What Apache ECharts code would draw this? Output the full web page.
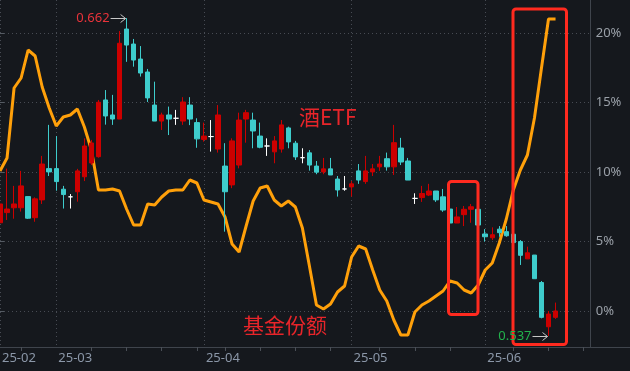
<!DOCTYPE html>
<html><head><meta charset="utf-8">
<script src="https://cdn.jsdelivr.net/npm/echarts@6/dist/echarts.min.js"></script>
<style>html,body{margin:0;padding:0;background:#15181d;}#c{width:630px;height:371px;}</style>
</head><body><div id="c"></div>
<script>
// ---- data (2025 trading days) ----
const dates = ['02-19','02-20','02-21','02-24','02-25','02-26','02-27','02-28',
'03-03','03-04','03-05','03-06','03-07','03-10','03-11','03-12','03-13','03-14','03-17','03-18','03-19','03-20','03-21','03-24','03-25','03-26','03-27','03-28','03-31',
'04-01','04-02','04-03','04-07','04-08','04-09','04-10','04-11','04-14','04-15','04-16','04-17','04-18','04-21','04-22','04-23','04-24','04-25','04-28','04-29','04-30',
'05-06','05-07','05-08','05-09','05-12','05-13','05-14','05-15','05-16','05-19','05-20','05-21','05-22','05-23','05-26','05-27','05-28','05-29','05-30',
'06-03','06-04','06-05','06-06','06-09','06-10','06-11','06-12','06-13','06-16','06-17','06-18','06-19','06-20','06-23','06-24'];
const opens = [0.5815,0.5855,0.5874,0.5874,0.5918,0.5835,0.5905,0.6028,0.6028,0.5947,
0.5917,0.5937,0.5996,0.6050,0.6075,0.6298,0.6239,0.6223,0.6577,0.6518,
0.6459,0.6408,0.6278,0.6215,0.6239,0.6226,0.6215,0.6278,0.6209,0.6143,
0.6154,0.6105,0.6038,0.5964,0.6042,0.6223,0.6219,0.6156,0.6117,0.6094,
0.6105,0.6188,0.6128,0.6071,0.6090,0.6038,0.6015,0.6027,0.5987,0.5948,
0.5956,0.6019,0.5977,0.6015,0.6035,0.6067,0.6035,0.6109,0.6058,0.5911,
0.5914,0.5924,0.5940,0.5917,0.5869,0.5814,0.5847,0.5868,0.5868,0.5771,
0.5756,0.5790,0.5780,0.5770,0.5741,0.5673,0.5688,0.5580,0.5406,0.5443];
const closes = [0.5889,0.5869,0.5889,0.5960,0.5833,0.5909,0.6046,0.6015,0.5977,0.5926,
0.5917,0.6019,0.6117,0.6129,0.6289,0.6235,0.6223,0.6521,0.6514,0.6455,
0.6404,0.6306,0.6215,0.6239,0.6223,0.6226,0.6290,0.6223,0.6145,0.6156,
0.6154,0.6239,0.5937,0.6137,0.6219,0.6248,0.6176,0.6112,0.6117,0.6137,
0.6200,0.6133,0.6074,0.6071,0.6042,0.6014,0.6027,0.6003,0.5944,0.5948,
0.5968,0.5983,0.6019,0.6027,0.6046,0.6035,0.6130,0.6054,0.5983,0.5911,
0.5930,0.5940,0.5905,0.5865,0.5814,0.5838,0.5868,0.5878,0.5806,0.5760,
0.5768,0.5776,0.5764,0.5737,0.5687,0.5697,0.5595,0.5443,0.5456,0.5468];
const lows = [0.5791,0.5826,0.5831,0.5859,0.5830,0.5819,0.5889,0.5999,0.5941,0.5871,
0.5871,0.5898,0.5979,0.6042,0.6071,0.6201,0.6200,0.6223,0.6448,0.6429,
0.6390,0.6290,0.6215,0.6180,0.6160,0.6200,0.6200,0.6199,0.6110,0.6134,
0.6095,0.6091,0.5780,0.5951,0.6029,0.6130,0.6108,0.6108,0.6078,0.6049,
0.6091,0.6108,0.6062,0.6049,0.6020,0.6006,0.6006,0.6003,0.5918,0.5941,
0.5918,0.5968,0.5968,0.5999,0.6019,0.6020,0.6003,0.6042,0.5983,0.5889,
0.5897,0.5920,0.5897,0.5858,0.5798,0.5814,0.5802,0.5815,0.5800,0.5741,
0.5747,0.5760,0.5760,0.5732,0.5649,0.5673,0.5595,0.5439,0.5370,0.5437];
const highs = [0.5889,0.6028,0.5960,0.6019,0.5918,0.5915,0.6078,0.6200,0.6156,0.5960,
0.5928,0.6027,0.6147,0.6141,0.6298,0.6337,0.6318,0.6569,0.6620,0.6538,
0.6510,0.6420,0.6370,0.6248,0.6272,0.6259,0.6309,0.6309,0.6226,0.6209,
0.6219,0.6278,0.6128,0.6147,0.6248,0.6259,0.6248,0.6209,0.6147,0.6156,
0.6219,0.6193,0.6137,0.6108,0.6101,0.6058,0.6070,0.6070,0.5999,0.5999,
0.5979,0.6046,0.6078,0.6046,0.6078,0.6091,0.6200,0.6149,0.6070,0.5931,
0.5960,0.5968,0.5940,0.5948,0.5878,0.5877,0.5881,0.5889,0.5877,0.5790,
0.5797,0.5802,0.5802,0.5779,0.5747,0.5721,0.5688,0.5586,0.5468,0.5501];
const fundShares = [17.6,18.9,25.9,26.9,29.7,29.1,26.0,23.9,22.1,23.0,
23.2,23.8,22.0,19.7,15.7,15.7,15.8,15.6,13.8,12.2,
12.2,14.3,14.2,15.0,15.6,15.7,15.7,16.7,16.4,14.7,
14.5,14.3,13.0,10.3,9.5,12.1,14.6,15.9,16.1,14.7,
14.1,14.6,14.0,11.9,8.1,4.2,3.8,4.3,5.5,6.1,
9.0,10.1,9.8,7.7,5.7,4.6,2.7,1.2,1.2,3.5,
4.2,4.6,5.1,5.6,6.6,6.4,5.7,5.4,6.2,7.7,
8.4,10.4,12.8,15.7,17.7,19.2,22.9,27.9,32.8,32.8];
const pctTicks = [0, 5, 10, 15, 20];
const basePrice = 0.5468;          // 0% reference of the right axis
const pctRange = [-2.59, 22.37];   // visible percent range of the plot
const shareRange = [0, 34.7];

// ---- layout ----
const W = 630, H = 371, plotBottom = 347, plotRight = 590.7;
const gridRight = W - plotRight, gridBottom = H - plotBottom;
const pxPerPct = plotBottom / (pctRange[1] - pctRange[0]);
const priceMin = basePrice * (1 + pctRange[0] / 100);
const priceMax = basePrice * (1 + pctRange[1] / 100);
const extMin = -5, extMax = 25;
const g1Top = (pctRange[1] - extMax) * pxPerPct;
const g1Height = (extMax - extMin) * pxPerPct;

const monthStart = dates.map((d, i) => i === 0 || d.slice(0, 2) !== dates[i - 1].slice(0, 2));
const dow = dates.map(d => new Date(2025, +d.slice(0, 2) - 1, +d.slice(3)).getDay());
const weekStart = dates.map((d, i) => i > 0 && dow[i] <= dow[i - 1]);

const UP = '#cc0000', DOWN = '#3ecccc', DOJI = '#ffffff';
const kData = opens.map((o, i) => {
  const item = { value: [o, closes[i], lows[i], highs[i]] };
  if (o === closes[i]) item.itemStyle = { color: DOJI, color0: DOJI, borderColor: DOJI, borderColor0: DOJI, borderColorDoji: DOJI };
  return item;
});

const chart = echarts.init(document.getElementById('c'), null, { renderer: 'canvas' });
const gridLineColor = '#474b53';
chart.setOption({
  backgroundColor: '#15181d',
  animation: false,
  grid: [
    { left: 0, right: gridRight, top: 0, bottom: gridBottom, containLabel: false, outerBoundsMode: 'none' },
    { left: 0, right: gridRight, top: g1Top, height: g1Height, containLabel: false, outerBoundsMode: 'none' }
  ],
  xAxis: [
    { type: 'category', gridIndex: 0, data: dates, boundaryGap: false,
      axisLine: { show: true, lineStyle: { color: '#3f444c', width: 1 } },
      axisTick: { show: true, length: 4, interval: (i) => weekStart[i] && !monthStart[i], lineStyle: { color: '#4a4f57' } },
      axisLabel: { show: true, interval: (i) => monthStart[i], formatter: (v) => '25-' + v.slice(0, 2),
        align: 'left', padding: [0, 0, 0, 2], margin: 5, color: '#8b97a8', fontSize: 13, fontFamily: 'Noto Sans' },
      splitLine: { show: true, interval: (i) => monthStart[i], lineStyle: { color: gridLineColor, type: [1, 3], width: 1 } } },
    { type: 'category', gridIndex: 0, data: dates, boundaryGap: false,
      axisLine: { show: false },
      axisTick: { show: true, length: 21, interval: (i) => monthStart[i] || i === dates.length - 1, lineStyle: { color: '#3f444c' } },
      axisLabel: { show: false }, splitLine: { show: false } },
    { type: 'value', gridIndex: 1, show: false, min: 0, max: 1 }
  ],
  yAxis: [
    { type: 'value', gridIndex: 0, position: 'right', min: priceMin, max: priceMax, scale: true,
      axisLine: { show: true, lineStyle: { color: '#3f444c' } }, axisTick: { show: false },
      axisLabel: { show: false }, splitLine: { show: false } },
    { type: 'value', gridIndex: 0, show: false, min: shareRange[0], max: shareRange[1] },
    { type: 'value', gridIndex: 1, position: 'right', min: extMin, max: extMax, interval: 5,
      axisLine: { show: false },
      axisTick: { show: true, length: 4, lineStyle: { color: '#555b63' } },
      axisLabel: { color: '#9aa0a8', fontSize: 13, margin: 5, fontFamily: 'Noto Sans',
        formatter: (v) => pctTicks.indexOf(v) >= 0 ? v + '%' : '' },
      splitLine: { show: true, lineStyle: { color: gridLineColor, type: [1, 3], width: 1 } } }
  ],
  series: [
    { type: 'line', name: '基金份额', xAxisIndex: 0, yAxisIndex: 1, data: fundShares,
      symbol: 'none', smooth: false, z: 3,
      lineStyle: { color: '#ffa00a', width: 3 } },
    { type: 'candlestick', name: '酒ETF', xAxisIndex: 0, yAxisIndex: 0, data: kData,
      barWidth: 5, z: 4,
      itemStyle: { color: UP, color0: DOWN, borderColor: UP, borderColor0: DOWN, borderColorDoji: DOJI, borderWidth: 1 } }
  ]
});

// ---- annotations (anchored to data) ----
let iMax = 0, iMin = 0;
highs.forEach((v, i) => { if (v > highs[iMax]) iMax = i; });
lows.forEach((v, i) => { if (v < lows[iMin]) iMin = i; });
const pMax = chart.convertToPixel({ xAxisIndex: 0, yAxisIndex: 0 }, [iMax, highs[iMax]]);
const pMin = chart.convertToPixel({ xAxisIndex: 0, yAxisIndex: 0 }, [iMin, lows[iMin]]);
function arrow(p, txt, color) {
  const x = p[0] - 1, y = Math.round(p[1]) + 0.5;
  return [
    { type: 'line', shape: { x1: x - 15, y1: y, x2: x, y2: y }, style: { stroke: '#c8c8c8', lineWidth: 1 }, z: 20 },
    { type: 'polyline', shape: { points: [[x - 5, y - 4], [x, y], [x - 5, y + 4]] }, style: { stroke: '#c8c8c8', lineWidth: 1, fill: null }, z: 20 },
    { type: 'text', x: x - 16, y: y, style: { text: txt, fill: color, font: '13px "Noto Sans"', textAlign: 'right', textVerticalAlign: 'middle' }, z: 20 }
  ];
}
const boxStyle = { stroke: '#ff2a1f', lineWidth: 3, fill: null };
chart.setOption({
  graphic: [
    { type: 'line', shape: { x1: plotRight, y1: plotBottom + 0.5, x2: W, y2: plotBottom + 0.5 }, style: { stroke: '#3f444c', lineWidth: 1 }, z: 10 },
    ...arrow(pMax, highs[iMax].toFixed(3), '#e8333a'),
    ...arrow(pMin, lows[iMin].toFixed(3), '#22b24c'),
    { type: 'text', x: 299, y: 117, style: { text: '酒ETF', fill: '#e8252a', font: '21px "Noto Sans CJK SC"', textVerticalAlign: 'middle' }, z: 20 },
    { type: 'text', x: 243, y: 325, style: { text: '基金份额', fill: '#e8252a', font: '21px "Noto Sans CJK SC"', textVerticalAlign: 'middle' }, z: 20 },
    { type: 'rect', shape: { x: 448.5, y: 181.5, width: 29.5, height: 133, r: 3 }, style: boxStyle, z: 15 },
    { type: 'rect', shape: { x: 513, y: 9, width: 53.5, height: 335.5, r: 3 }, style: boxStyle, z: 15 }
  ]
});
</script></body></html>
